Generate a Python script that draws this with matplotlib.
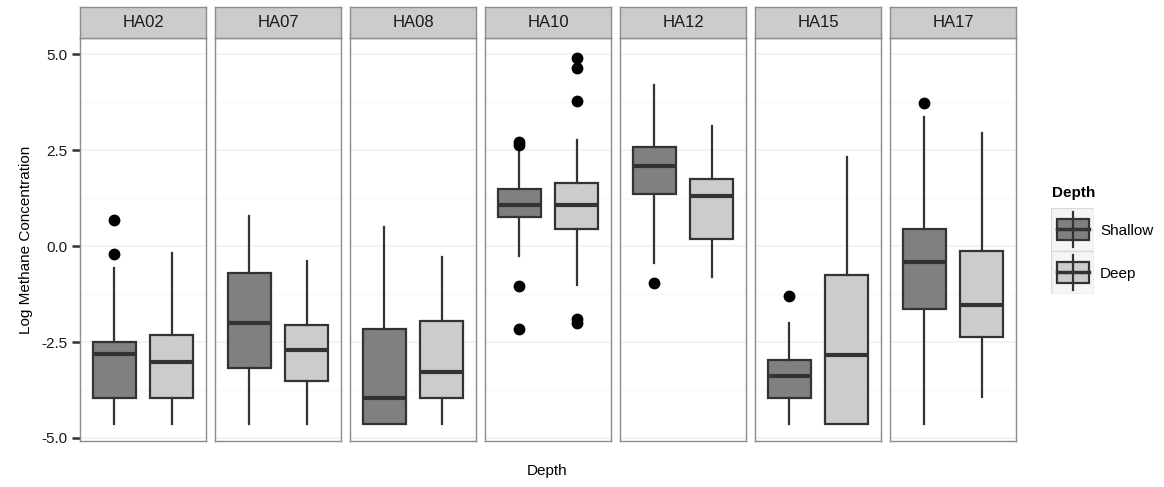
import numpy as np
import matplotlib.pyplot as plt
from matplotlib.patches import Rectangle

plt.rcParams['font.family'] = ['Liberation Sans', 'DejaVu Sans']

# du lieu doc tu hinh
sites = ['HA02', 'HA07', 'HA08', 'HA10', 'HA12', 'HA15', 'HA17']

shallow_lo = [-4.63, -4.63, -4.63, -0.26, -0.43, -4.63, -4.63]
shallow_q1 = [-3.95, -3.18, -4.63, 0.76, 1.35, -3.95, -1.63]
shallow_med = [-2.82, -2.00, -3.95, 1.07, 2.08, -3.39, -0.41]
shallow_q3 = [-2.50, -0.71, -2.15, 1.48, 2.58, -2.98, 0.45]
shallow_hi = [-0.57, 0.80, 0.50, 2.52, 4.21, -2.00, 3.37]
shallow_out = [[0.68, -0.21], [], [], [2.73, 2.65, -1.04, -2.15], [-0.95], [-1.30], [3.73]]

deep_lo = [-4.63, -4.63, -4.63, -1.02, -0.80, -4.63, -3.94]
deep_q1 = [-3.95, -3.52, -3.95, 0.46, 0.20, -4.63, -2.36]
deep_med = [-3.02, -2.71, -3.27, 1.07, 1.32, -2.84, -1.53]
deep_q3 = [-2.32, -2.06, -1.95, 1.65, 1.76, -0.76, -0.12]
deep_hi = [-0.18, -0.39, -0.28, 2.78, 3.14, 2.32, 2.95]
deep_out = [[], [], [], [4.92, 4.64, 3.80, -1.91, -2.00], [], [], []]

depths = ['Shallow', 'Deep']
fills = ['#808080', '#cccccc']
edge = '#333333'

W, H = 1164, 487
fig = plt.figure(figsize=(W / 100, H / 100), dpi=100)

def px_box(x0, y0, x1, y1):
    # doi toa do pixel sang phan so cua figure
    return [x0 / W, 1 - y1 / H, (x1 - x0) / W, (y1 - y0) / H]

left0, pw, gap = 80, 126, 9
strip_top, strip_bot, panel_bot = 7, 38, 441

for i, s in enumerate(sites):
    x0 = left0 + i * (pw + gap)
    ax = fig.add_axes(px_box(x0, strip_bot, x0 + pw, panel_bot))
    stats = []
    for lo, q1, med, q3, hi, out in [
        (shallow_lo[i], shallow_q1[i], shallow_med[i], shallow_q3[i], shallow_hi[i], shallow_out[i]),
        (deep_lo[i], deep_q1[i], deep_med[i], deep_q3[i], deep_hi[i], deep_out[i])]:
        stats.append(dict(whislo=lo, q1=q1, med=med, q3=q3, whishi=hi, fliers=out))
    bp = ax.bxp(stats, positions=[1, 2], widths=0.75, patch_artist=True, showcaps=False,
                boxprops=dict(edgecolor=edge, linewidth=1.6),
                whiskerprops=dict(color=edge, linewidth=1.6),
                medianprops=dict(color=edge, linewidth=3, solid_capstyle='butt'),
                flierprops=dict(marker='o', markerfacecolor='black', markeredgecolor='black',
                                markersize=7.5))
    for b, c in zip(bp['boxes'], fills):
        b.set_facecolor(c)
    ax.set_xlim(0.4, 2.6)
    ax.set_ylim(-5.08, 5.43)
    ax.set_yticks([-5, -2.5, 0, 2.5, 5])
    ax.set_yticks([-3.75, -1.25, 1.25, 3.75], minor=True)
    ax.grid(True, axis='y', which='major', color='#f0f0f0', linewidth=1.2)
    ax.grid(True, axis='y', which='minor', color='#f8f8f8', linewidth=1.0)
    ax.set_axisbelow(True)
    ax.set_xticks([])
    for sp in ax.spines.values():
        sp.set_color('#8c8c8c')
        sp.set_linewidth(1.0)
    if i == 0:
        ax.set_yticklabels(['-5.0', '-2.5', '0.0', '2.5', '5.0'], fontsize=11, color='#1a1a1a')
        ax.tick_params(axis='y', which='major', length=6, width=1.8, color='#333333', pad=3)
        ax.tick_params(axis='y', which='minor', length=0)
        ax.set_ylabel('Log Methane Concentration', fontsize=11, labelpad=6)
    else:
        ax.tick_params(axis='y', which='both', length=0, labelleft=False)

    # strip tieu de
    sx = fig.add_axes(px_box(x0, strip_top, x0 + pw, strip_bot))
    sx.set_facecolor('#cccccc')
    sx.set_xticks([])
    sx.set_yticks([])
    for sp in sx.spines.values():
        sp.set_color('#8c8c8c')
        sp.set_linewidth(1.0)
    sx.text(0.5, 0.5, s, ha='center', va='center', fontsize=12, color='#1a1a1a',
            transform=sx.transAxes)

fig.text(547 / W, 1 - 471 / H, 'Depth', ha='center', va='center', fontsize=11)

# chu thich
fig.text(1052 / W, 1 - 193 / H, 'Depth', ha='left', va='center', fontsize=11, fontweight='bold')
lg = fig.add_axes(px_box(1051, 208, 1094, 294))
lg.set_xlim(0, 43)
lg.set_ylim(86, 0)
lg.axis('off')
for k, (name, c) in enumerate(zip(depths, fills)):
    yk = k * 43
    lg.add_patch(Rectangle((0, yk), 43, 43, facecolor='#f5f5f5', edgecolor='#d9d9d9', lw=1))
    lg.plot([21.5, 21.5], [yk + 4, yk + 39], color=edge, lw=1.6)
    lg.add_patch(Rectangle((6, yk + 11), 32, 21, facecolor=c, edgecolor=edge, lw=1.6))
    lg.plot([6, 38], [yk + 21.5, yk + 21.5], color=edge, lw=2.5)
    fig.text(1100 / W, 1 - (231 + 43 * k) / H, name, ha='left', va='center', fontsize=11)

fig.savefig('out.png', dpi=100)
